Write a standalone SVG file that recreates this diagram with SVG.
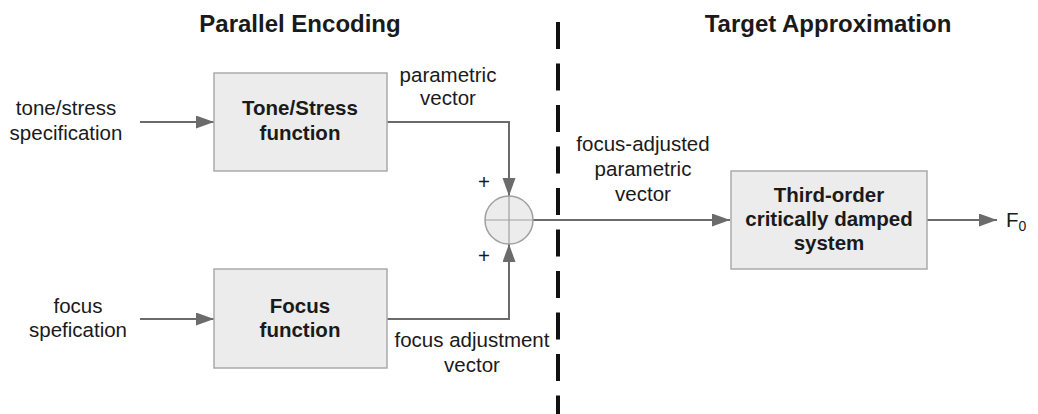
<svg xmlns="http://www.w3.org/2000/svg" width="1038" height="414" viewBox="0 0 1038 414">
<style>
text{font-family:"Liberation Sans",Arial,sans-serif;fill:#1a1a1a}
.t{font-size:20.5px;text-anchor:middle}
.b{font-size:20.5px;font-weight:bold;text-anchor:middle}
.h{font-size:24px;font-weight:bold;text-anchor:middle}
.box{fill:#ececec;stroke:#aaaaaa;stroke-width:1.5}
.ln{fill:none;stroke:#6b6b6b;stroke-width:2}
</style>
<defs>
<marker id="ah" markerUnits="userSpaceOnUse" markerWidth="20" markerHeight="14" refX="18" refY="6.5" orient="auto">
<path d="M0,0 L18,6.5 L0,13 Z" fill="#6b6b6b"/>
</marker>
</defs>
<text class="h" x="300" y="32">Parallel Encoding</text>
<text class="h" x="828" y="32">Target Approximation</text>
<line x1="558" y1="22" x2="558" y2="414" stroke="#111" stroke-width="4" stroke-dasharray="27 14.5"/>
<g id="connectors">
<line class="ln" x1="140" y1="122" x2="214" y2="122" marker-end="url(#ah)"/>
<line class="ln" x1="140" y1="319" x2="214" y2="319" marker-end="url(#ah)"/>
<polyline class="ln" points="387,122 509,122 509,196" marker-end="url(#ah)"/>
<polyline class="ln" points="387,319 509,319 509,244" marker-end="url(#ah)"/>
<line class="ln" x1="533" y1="220" x2="730" y2="220" marker-end="url(#ah)"/>
<line class="ln" x1="927" y1="220" x2="997" y2="220" marker-end="url(#ah)"/>
</g>
<g id="in-tone">
<text class="t" x="66" y="115">tone/stress</text>
<text class="t" x="66" y="140">specification</text>
</g>
<g id="in-focus">
<text class="t" x="78" y="313">focus</text>
<text class="t" x="78" y="337">spefication</text>
</g>
<g id="tone-box">
<rect class="box" x="214" y="73" width="173" height="98"/>
<text class="b" x="300" y="115">Tone/Stress</text>
<text class="b" x="300" y="140">function</text>
</g>
<g id="focus-box">
<rect class="box" x="214" y="269" width="173" height="99"/>
<text class="b" x="300" y="313">Focus</text>
<text class="b" x="300" y="337">function</text>
</g>
<g id="sum">
<circle cx="509" cy="220" r="24" fill="#ececec" stroke="#a0a0a0" stroke-width="1.5"/>
<line x1="485" y1="220" x2="533" y2="220" stroke="#a0a0a0" stroke-width="1.2"/>
<line x1="509" y1="196" x2="509" y2="244" stroke="#a0a0a0" stroke-width="1.2"/>
<text class="t" x="484" y="189">+</text>
<text class="t" x="484" y="263">+</text>
</g>
<g id="lbl-param">
<text class="t" x="448" y="82">parametric</text>
<text class="t" x="448" y="105">vector</text>
</g>
<g id="lbl-focusadj">
<text class="t" x="472" y="347">focus adjustment</text>
<text class="t" x="472" y="372">vector</text>
</g>
<g id="lbl-fa-param">
<text class="t" x="643" y="151">focus-adjusted</text>
<text class="t" x="643" y="176">parametric</text>
<text class="t" x="643" y="201">vector</text>
</g>
<g id="system-box">
<rect class="box" x="731" y="171" width="196" height="98"/>
<text class="b" x="829" y="202">Third-order</text>
<text class="b" x="829" y="226">critically damped</text>
<text class="b" x="829" y="250">system</text>
</g>
<g id="out">
<text x="1006" y="227" style="font-size:20.5px">F<tspan font-size="14" dy="4">0</tspan></text>
</g>
</svg>
